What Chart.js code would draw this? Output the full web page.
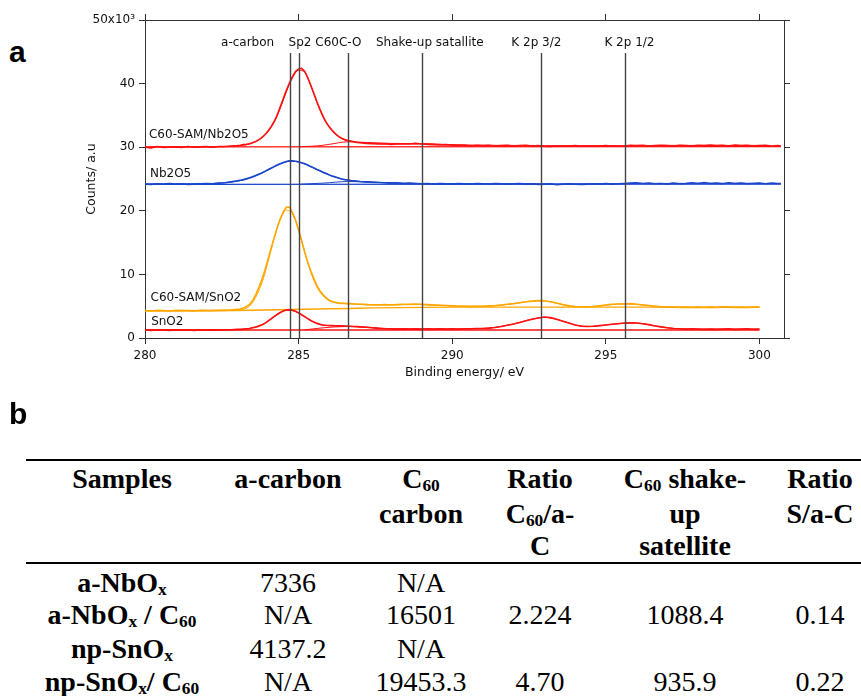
<!DOCTYPE html>
<html>
<head>
<meta charset="utf-8">
<script src="https://cdn.jsdelivr.net/npm/chart.js@4.4.0/dist/chart.umd.min.js"></script>
<style>
  body { margin: 0; background: #fff; width: 861px; height: 696px; position: relative; overflow: hidden; }
  #xps { position: absolute; left: 0; top: 0; }
  .panel { position: absolute; left: 9px; font: bold 30px/30px "Liberation Sans", Arial, sans-serif; color: #000; }
  .rule { position: absolute; left: 26px; right: 0; height: 2px; background: #000; }
  .cell { position: absolute; width: 240px; text-align: center; font: 28px/33px "Liberation Serif", "Times New Roman", serif; white-space: nowrap; color: #000; }
  .cell.bold { font-weight: bold; }
  .cell sub { font-size: 0.62em; line-height: 1; vertical-align: -0.2em; }
</style>
</head>
<body>
<div class="panel" style="top:37px">a</div>
<canvas id="xps" width="861" height="400"></canvas>
<div class="panel" style="top:399px">b</div>
<div class="rule" style="top:459px"></div>
<div class="rule" style="top:562px"></div>
<div id="table"></div>

<script>
// binding energy grid of the measured spectra (eV)
const energy = [
  280.0, 280.2, 280.4, 280.6, 280.8, 281.0, 281.2, 281.4, 281.6, 281.8, 282.0, 282.2, 282.4, 282.6, 282.8, 283.0,
  283.1, 283.2, 283.3, 283.4, 283.5, 283.6, 283.7, 283.8, 283.9,
  284.0, 284.1, 284.2, 284.3, 284.4, 284.5, 284.6, 284.7, 284.8, 284.9,
  285.0, 285.1, 285.2, 285.3, 285.4, 285.5, 285.6, 285.7, 285.8, 285.9,
  286.0, 286.1, 286.2, 286.3, 286.4, 286.5, 286.6, 286.7, 286.8, 286.9,
  287.0,
  287.2, 287.4, 287.6, 287.8,
  288.0, 288.2, 288.4, 288.6, 288.8,
  289.0, 289.2, 289.4, 289.6, 289.8,
  290.0, 290.2, 290.4, 290.6, 290.8,
  291.0, 291.2, 291.4, 291.6, 291.8,
  292.0, 292.2, 292.4, 292.6, 292.8,
  293.0, 293.2, 293.4, 293.6, 293.8,
  294.0, 294.2, 294.4, 294.6, 294.8,
  295.0, 295.2, 295.4, 295.6, 295.8,
  296.0, 296.2, 296.4, 296.6, 296.8,
  297.0, 297.2, 297.4, 297.6, 297.8,
  298.0, 298.2, 298.4, 298.6, 298.8,
  299.0, 299.2, 299.4, 299.6, 299.8,
  300.0,
  300.2, 300.4, 300.6, 300.7
];

// counts (x10^3), C60-SAM/Nb2O5
const c60Nb = [
  30.0, 29.9, 30.1, 29.95, 30.0, 30.05, 29.95, 30.1, 30.0, 30.05, 30.1, 30.0, 30.1, 30.1, 30.2, 30.25,
  30.3, 30.4, 30.45, 30.55, 30.7, 30.9, 31.15, 31.5, 31.95,
  32.5, 33.2, 34.0, 35.0, 36.3, 37.6, 38.9, 40.1, 41.1, 41.9,
  42.3, 42.4, 41.9, 40.9, 39.7, 38.4, 37.1, 35.9, 34.8, 33.9,
  33.2, 32.6, 32.1, 31.7, 31.4, 31.2, 31.05, 30.95, 30.85, 30.75,
  30.7,
  30.6, 30.55, 30.5, 30.55,
  30.45, 30.5, 30.55, 30.5, 30.6,
  30.5, 30.45, 30.4, 30.35, 30.4,
  30.3, 30.25, 30.3, 30.2, 30.3,
  30.25, 30.3, 30.2, 30.25, 30.3,
  30.2, 30.25, 30.3, 30.2, 30.25,
  30.15, 30.1, 30.2, 30.15, 30.2,
  30.25, 30.15, 30.2, 30.15, 30.2,
  30.25, 30.2, 30.15, 30.2, 30.3,
  30.25, 30.3, 30.2, 30.25, 30.3,
  30.25, 30.2, 30.3, 30.25, 30.2,
  30.3, 30.25, 30.35, 30.25, 30.3,
  30.2, 30.35, 30.25, 30.3, 30.2,
  30.25,
  30.3, 30.2, 30.25, 30.2
];

// Nb2O5
const nb2o5 = [
  24.2, 24.15, 24.25, 24.2, 24.3, 24.2, 24.25, 24.15, 24.2, 24.25, 24.3, 24.25, 24.35, 24.4, 24.55, 24.7,
  24.8, 24.9, 25.05, 25.2, 25.35, 25.55, 25.75, 25.95, 26.2,
  26.45, 26.7, 26.95, 27.2, 27.4, 27.6, 27.75, 27.85, 27.85, 27.8,
  27.7, 27.55, 27.4, 27.2, 26.95, 26.75, 26.5, 26.3, 26.05, 25.85,
  25.65, 25.45, 25.3, 25.15, 25.0, 24.9, 24.85, 24.75, 24.7, 24.65,
  24.6,
  24.55, 24.5, 24.45, 24.4,
  24.35, 24.4, 24.3, 24.35, 24.3,
  24.25, 24.3, 24.2, 24.3, 24.25,
  24.2, 24.3, 24.25, 24.2, 24.3,
  24.25, 24.2, 24.3, 24.25, 24.2,
  24.25, 24.3, 24.2, 24.25, 24.15,
  24.2, 24.25, 24.1, 24.2, 24.25,
  24.2, 24.15, 24.2, 24.25, 24.2,
  24.3, 24.2, 24.25, 24.3, 24.35,
  24.4, 24.3, 24.35, 24.25, 24.3,
  24.2, 24.35, 24.25, 24.3, 24.4,
  24.3, 24.45, 24.3, 24.35, 24.25,
  24.4, 24.3, 24.35, 24.25, 24.3,
  24.35,
  24.25, 24.35, 24.3, 24.3
];

// C60-SAM/SnO2
const c60Sn = [
  4.3, 4.25, 4.35, 4.3, 4.25, 4.35, 4.3, 4.3, 4.25, 4.35, 4.3, 4.3, 4.35, 4.35, 4.4, 4.5,
  4.55, 4.7, 4.95, 5.25, 5.85, 6.75, 7.9, 9.1, 10.6,
  12.3, 14.0, 15.7, 17.3, 18.7, 19.8, 20.55, 20.6, 19.7, 18.6,
  17.0, 15.3, 13.5, 11.9, 10.5, 9.3, 8.2, 7.4, 6.8, 6.3,
  5.95, 5.7, 5.6, 5.5, 5.45, 5.45, 5.4, 5.4, 5.35, 5.3,
  5.3,
  5.25, 5.2, 5.2, 5.25,
  5.2, 5.25, 5.3, 5.3, 5.35,
  5.3, 5.25, 5.2, 5.15, 5.1,
  5.05, 5.0, 5.0, 4.95, 5.0,
  5.0, 5.05, 5.1, 5.2, 5.3,
  5.4, 5.55, 5.7, 5.8, 5.9,
  5.85, 5.7, 5.5, 5.25, 5.05,
  4.95, 4.9, 4.9, 4.95, 5.05,
  5.2, 5.3, 5.35, 5.35, 5.4,
  5.3, 5.2, 5.1, 5.0, 4.9,
  4.85, 4.85, 4.8, 4.85, 4.8,
  4.85, 4.8, 4.85, 4.8, 4.9,
  4.85, 4.8, 4.85, 4.8, 4.85,
  4.85
];

// SnO2
const sno2 = [
  1.25, 1.2, 1.3, 1.25, 1.2, 1.3, 1.25, 1.25, 1.2, 1.3, 1.25, 1.3, 1.25, 1.3, 1.3, 1.35,
  1.35, 1.4, 1.45, 1.5, 1.6, 1.7, 1.85, 2.05, 2.3,
  2.65, 3.0, 3.35, 3.7, 4.0, 4.25, 4.4, 4.45, 4.35, 4.2,
  3.95, 3.65, 3.35, 3.05, 2.75, 2.5, 2.3, 2.15, 2.05, 2.0,
  1.97, 1.95, 1.92, 1.9, 1.9, 1.87, 1.85, 1.85, 1.8, 1.8,
  1.75,
  1.7, 1.6, 1.5, 1.45,
  1.45, 1.4, 1.45, 1.4, 1.45,
  1.4, 1.45, 1.4, 1.45, 1.4,
  1.45, 1.4, 1.45, 1.45, 1.5,
  1.5, 1.55, 1.65, 1.8, 2.0,
  2.2, 2.45, 2.7, 2.95, 3.15,
  3.3, 3.2, 2.95, 2.65, 2.35,
  2.05, 1.85, 1.8, 1.85, 1.95,
  2.05, 2.15, 2.25, 2.35, 2.4,
  2.35, 2.25, 2.1, 1.9, 1.75,
  1.6, 1.5, 1.45, 1.4, 1.45,
  1.4, 1.35, 1.4, 1.35, 1.4,
  1.45, 1.35, 1.4, 1.45, 1.35,
  1.4
];

// fitted envelopes
const fitE = [280, 282, 283, 283.4, 283.8, 284.0, 284.2, 284.4, 284.6, 284.8, 285.0, 285.2, 285.4, 285.6, 285.8,
  286.0, 286.4, 286.8, 287.4, 288, 289, 290, 291, 292, 292.5, 293, 293.5, 294, 294.5, 295, 295.5, 296, 296.5, 297, 298, 300];
const fitC60Nb = [30.02, 30.05, 30.22, 30.5, 31.45, 32.4, 33.9, 36.1, 38.7, 40.9, 42.1, 41.8, 39.6, 37.0, 34.7,
  33.1, 31.35, 30.85, 30.6, 30.5, 30.55, 30.35, 30.3, 30.28, 30.27, 30.25, 30.25, 30.25, 30.25, 30.25, 30.25, 30.27, 30.27, 30.28, 30.28, 30.28];
const fitNb = [24.22, 24.27, 24.65, 25.1, 25.9, 26.4, 26.9, 27.35, 27.7, 27.8, 27.65, 27.35, 26.9, 26.45, 26.0,
  25.6, 25.0, 24.7, 24.5, 24.38, 24.3, 24.25, 24.25, 24.25, 24.25, 24.22, 24.22, 24.22, 24.25, 24.25, 24.28, 24.3, 24.3, 24.3, 24.32, 24.32];
const fitC60Sn = [4.3, 4.32, 4.42, 5.0, 8.6, 11.9, 15.6, 18.6, 20.1, 19.5, 16.9, 13.4, 10.3, 8.0, 6.6,
  5.85, 5.45, 5.35, 5.25, 5.22, 5.25, 5.05, 5.0, 5.4, 5.75, 5.8, 5.35, 4.95, 4.95, 5.15, 5.35, 5.3, 5.05, 4.88, 4.83, 4.83];
const fitSn = [1.27, 1.27, 1.32, 1.5, 2.1, 2.6, 3.3, 3.95, 4.35, 4.3, 3.9, 3.3, 2.7, 2.25, 2.0,
  1.93, 1.88, 1.8, 1.6, 1.45, 1.42, 1.42, 1.5, 2.2, 2.85, 3.25, 2.8, 2.05, 1.82, 2.05, 2.3, 2.35, 2.0, 1.6, 1.4, 1.4];

// backgrounds
const bgC60NbE = [280, 300.7], bgC60Nb = [30.05, 30.1];
const bgNbE = [280, 300.7], bgNb = [24.15, 24.18];
const bgC60SnE = [280, 283, 286, 290, 300], bgC60Sn = [4.28, 4.33, 4.6, 4.85, 4.85];
const bgSnE = [280, 300], bgSn = [1.25, 1.25];

// C-O / shoulder components
const coC60NbE = [285.0, 285.6, 286.0, 286.6, 287.2, 288, 289, 290, 291, 292];
const coC60Nb = [30.08, 30.2, 30.45, 30.85, 30.75, 30.6, 30.55, 30.4, 30.25, 30.15];
const coNbE = [285.0, 285.8, 286.6, 287.4, 288.5, 290];
const coNb = [24.17, 24.35, 24.6, 24.5, 24.3, 24.2];
const coSnE = [285.2, 285.8, 286.5, 287.2, 288, 289];
const coSn = [1.28, 1.6, 1.8, 1.7, 1.45, 1.3];

// peak positions marked on the plot
const markerE = [284.71, 285.02, 286.61, 289.01, 292.88, 295.62];
const markerTop = 44.8;
const markerLabels = ['a-carbon', 'Sp2 C60C-O', 'Shake-up satallite', 'K 2p 3/2', 'K 2p 1/2'];
const markerLabelE = [283.34, 285.86, 289.27, 292.74, 295.77];
const markerLabelY = 45.9;

const seriesLabels = ['C60-SAM/Nb2O5', 'Nb2O5', 'C60-SAM/SnO2', 'SnO2'];
const seriesLabelE = [280.13, 280.16, 280.18, 280.2];
const seriesLabelY = [31.45, 25.3, 5.8, 2.05];

// table
const headers = [
  ['Samples'],
  ['a-carbon'],
  ['C<sub>60</sub>', 'carbon'],
  ['Ratio', 'C<sub>60</sub>/a-', 'C'],
  ['C<sub>60</sub> shake-', 'up', 'satellite'],
  ['Ratio', 'S/a-C']
];
const samples = ['a-NbO<sub>x</sub>', 'a-NbO<sub>x</sub> / C<sub>60</sub>', 'np-SnO<sub>x</sub>', 'np-SnO<sub>x</sub>/ C<sub>60</sub>'];
const aCarbon = ['7336', 'N/A', '4137.2', 'N/A'];
const c60Carbon = ['N/A', '16501', 'N/A', '19453.3'];
const ratioC60 = ['', '2.224', '', '4.70'];
const shakeUp = ['', '1088.4', '', '935.9'];
const ratioS = ['', '0.14', '', '0.22'];

const RED = '#ff1010';
const BLUE = '#1a44cc';
const ORANGE = '#ffa600';
const AXIS = '#333';
const FONT = '"DejaVu Sans", Verdana, sans-serif';

Chart.defaults.font.family = FONT;
Chart.defaults.color = '#111';

const pts = (xs, ys) => ys.map((y, i) => ({ x: xs[i], y: y }));

function line(data, color, width, smooth) {
  return {
    data: data,
    borderColor: color,
    borderWidth: width,
    pointRadius: 0,
    fill: false,
    tension: 0,
    cubicInterpolationMode: smooth ? 'monotone' : 'default'
  };
}

const datasets = [
  line(pts(energy, c60Nb), RED, 1.6),
  line(pts(energy, nb2o5), BLUE, 1.6),
  line(pts(energy, c60Sn), ORANGE, 1.6),
  line(pts(energy, sno2), RED, 1.6),
  line(pts(fitE, fitC60Nb), RED, 1, true),
  line(pts(fitE, fitNb), BLUE, 1, true),
  line(pts(fitE, fitC60Sn), ORANGE, 1, true),
  line(pts(fitE, fitSn), RED, 1, true),
  line(pts(coC60NbE, coC60Nb), RED, 1, true),
  line(pts(coNbE, coNb), BLUE, 1, true),
  line(pts(coSnE, coSn), RED, 1, true),
  line(pts(bgC60NbE, bgC60Nb), RED, 1.2),
  line(pts(bgNbE, bgNb), BLUE, 1.2),
  line(pts(bgC60SnE, bgC60Sn), ORANGE, 1.4, true),
  line(pts(bgSnE, bgSn), RED, 1.4)
];

// vertical peak markers and the text annotations
const annotations = {
  id: 'annotations',
  afterDatasetsDraw(chart) {
    const { ctx, scales: { x, y } } = chart;
    ctx.save();
    ctx.strokeStyle = '#444';
    ctx.lineWidth = 1.4;
    markerE.forEach(e => {
      const px = Math.round(x.getPixelForValue(e)) + 0.5;
      ctx.beginPath();
      ctx.moveTo(px, y.getPixelForValue(markerTop));
      ctx.lineTo(px, y.getPixelForValue(0));
      ctx.stroke();
    });
    ctx.fillStyle = '#111';
    ctx.font = '12px ' + FONT;
    ctx.textBaseline = 'alphabetic';
    ctx.textAlign = 'center';
    markerLabels.forEach((t, i) => {
      ctx.fillText(t, x.getPixelForValue(markerLabelE[i]), y.getPixelForValue(markerLabelY));
    });
    ctx.textAlign = 'left';
    seriesLabels.forEach((t, i) => {
      ctx.fillText(t, x.getPixelForValue(seriesLabelE[i]), y.getPixelForValue(seriesLabelY[i]));
    });
    ctx.restore();
  }
};

const axisGrid = { drawOnChartArea: false, drawTicks: true, tickLength: 6, color: AXIS, lineWidth: 1 };
const axisBorder = { display: true, color: AXIS, width: 1 };

new Chart(document.getElementById('xps'), {
  type: 'line',
  data: { datasets: datasets },
  options: {
    responsive: false,
    animation: false,
    events: [],
    layout: { padding: 0 },
    plugins: { legend: { display: false }, tooltip: { enabled: false } },
    scales: {
      x: {
        type: 'linear', position: 'bottom', min: 280, max: 300.8,
        afterFit: s => { s.height = 62; },
        border: axisBorder, grid: axisGrid,
        ticks: { stepSize: 5, includeBounds: false, maxRotation: 0, padding: 5, font: { size: 12 } },
        title: { display: true, text: 'Binding energy/ eV', font: { size: 12.5 }, padding: { top: 0, bottom: 20 } }
      },
      x2: {
        type: 'linear', position: 'top', min: 280, max: 300.8,
        afterFit: s => { s.height = 20; },
        border: axisBorder, grid: axisGrid,
        ticks: { stepSize: 5, includeBounds: false, display: false }
      },
      y: {
        type: 'linear', position: 'left', min: 0, max: 50,
        afterFit: s => { s.width = 145; },
        border: axisBorder, grid: axisGrid,
        ticks: { stepSize: 10, padding: 4, font: { size: 12 }, callback: v => v === 50 ? '50x10\u00b3' : v },
        title: { display: true, text: 'Counts/ a.u', font: { size: 12.5 }, padding: { top: 84, bottom: 0 } }
      },
      y2: {
        type: 'linear', position: 'right', min: 0, max: 50,
        afterFit: s => { s.width = 77; },
        border: axisBorder, grid: axisGrid,
        ticks: { stepSize: 10, display: false }
      }
    }
  },
  plugins: [annotations]
});

// table of peak areas
const table = document.getElementById('table');
const colCenter = [122, 288, 421, 540, 685, 820];
const headBase = [488, 523, 555];
const rowBase = [592, 624, 658, 691];

function cell(html, center, baseline, bold) {
  const d = document.createElement('div');
  d.className = 'cell' + (bold ? ' bold' : '');
  d.style.left = (center - 120) + 'px';
  d.style.top = (baseline - 26) + 'px';
  d.innerHTML = html;
  table.appendChild(d);
}

headers.forEach((lines, c) => {
  lines.forEach((t, r) => cell(t, colCenter[c], headBase[r], true));
});
[samples, aCarbon, c60Carbon, ratioC60, shakeUp, ratioS].forEach((col, c) => {
  col.forEach((t, r) => { if (t) cell(t, colCenter[c], rowBase[r], c === 0); });
});
</script>
</body>
</html>
